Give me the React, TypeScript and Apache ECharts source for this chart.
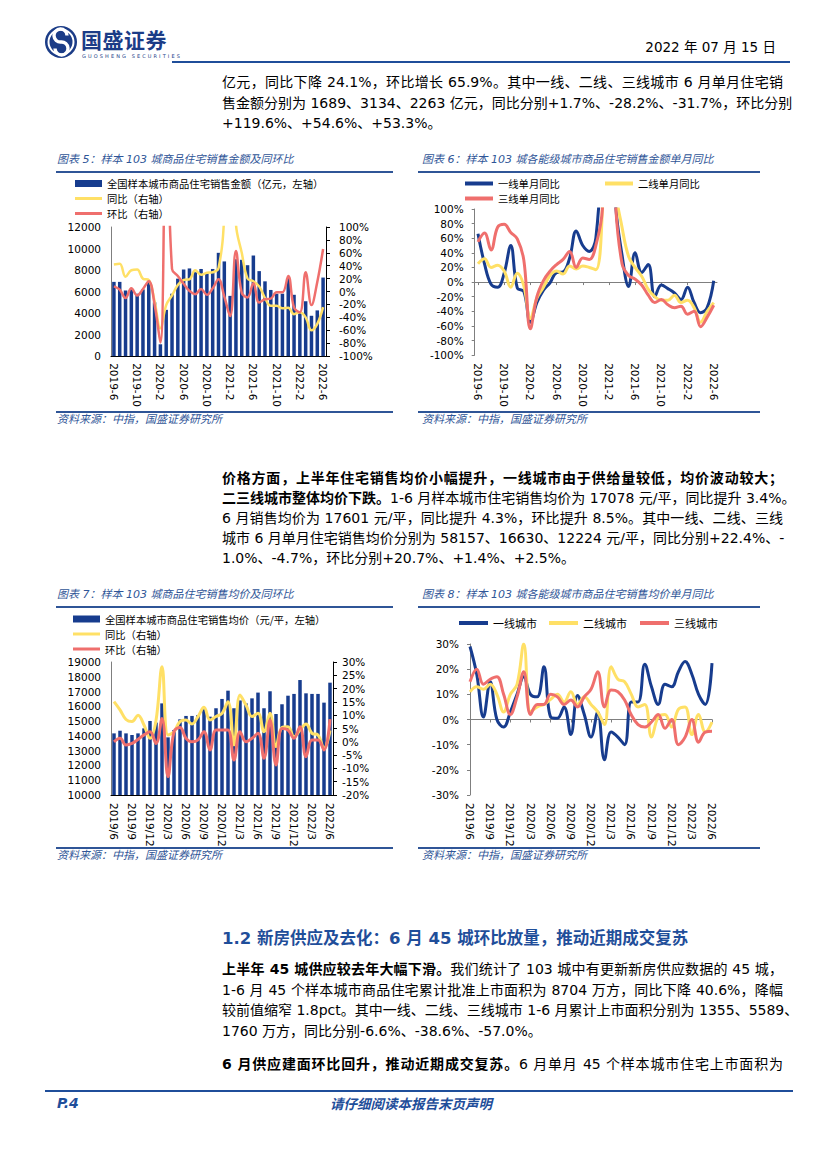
import React, { useEffect, useRef } from 'react';
import * as echarts from 'echarts';

// ---------- categories ----------
const DASH_MONTHS = ['2019-6','2019-7','2019-8','2019-9','2019-10','2019-11','2019-12','2020-1','2020-2','2020-3','2020-4','2020-5','2020-6','2020-7','2020-8','2020-9','2020-10','2020-11','2020-12','2021-1','2021-2','2021-3','2021-4','2021-5','2021-6','2021-7','2021-8','2021-9','2021-10','2021-11','2021-12','2022-1','2022-2','2022-3','2022-4','2022-5','2022-6'];
const SLASH_MONTHS = ['2019/6','2019/7','2019/8','2019/9','2019/10','2019/11','2019/12','2020/1','2020/2','2020/3','2020/4','2020/5','2020/6','2020/7','2020/8','2020/9','2020/10','2020/11','2020/12','2021/1','2021/2','2021/3','2021/4','2021/5','2021/6','2021/7','2021/8','2021/9','2021/10','2021/11','2021/12','2022/1','2022/2','2022/3','2022/4','2022/5','2022/6'];

// ---------- chart 5: sales amount ----------
const salesAmount = [6900,6900,6100,6200,5800,6200,7000,5000,1100,4300,5800,7200,8050,8150,7800,8100,7700,8100,9600,8800,5600,9000,8950,8450,9350,7900,6950,6150,5800,5800,7250,5700,4000,5100,3750,4250,7300];
const salesYoy = [42,43,23,33,34,20,18,-15,-57,-21,-6,10,18,19,33,26,29,30,36,120,400,105,60,20,16,8,-10,-22,-22,-26,-25,-35,-32,-40,-60,-50,-24.1];
const salesMom = [8,3,-10,5,-6,4,16,-20,-79,290,35,24,12,1,-4,4,-5,5,19,-8,-38,63,-2,-9,13,-17,-12,-11,-1,-1,24,-25,-32,30,-21,15,65.9];

// ---------- chart 6: amount yoy by tier ----------
const tier1AmountYoy = [66,25,-3,-7,12,50,-8,-13,-55,-28,-11,-1,13,14,33,70,50,42,60,200,400,110,37,-6,40,13,24,-20,-4,-9,-15,-24,-7,-28,-42,-35,1.7];
const tier2AmountYoy = [25,32,20,23,15,-7,12,-5,-50,-22,-7,9,15,11,22,18,22,20,17,100,400,130,75,35,20,8,-10,-20,-25,-25,-18,-28,-25,-35,-55,-40,-28.2];
const tier3AmountYoy = [55,67,44,75,79,68,59,30,-64,-20,2,15,24,31,42,20,33,31,50,100,400,110,25,9,4,-4,-18,-28,-24,-31,-35,-33,-44,-40,-61,-48,-31.7];

// ---------- chart 7: average price ----------
const avgPrice = [14170,14350,14170,14060,14170,14510,15010,14900,16200,13900,14400,15120,15350,15350,15410,15800,15300,15870,16500,17060,15870,16400,16200,16540,16930,15870,17020,15480,16140,16720,16840,17780,16880,16840,16840,16250,17601];
const priceYoy = [15.1,12,8.4,7.6,10,6.3,1.3,8,28.2,2.6,3.8,7.6,8.2,6.7,9.5,13,8.2,9.5,10.7,15.1,-1.2,17.6,13.8,9.5,10.7,3.8,10.7,-1.8,5.4,5.7,1.9,4.4,6.7,3.2,2.6,-2.5,4.3];
const priceMom = [0,1.3,-1.2,-0.6,0.9,2.6,3.8,-0.6,8.8,-13.1,3.8,5.4,1.3,0,0.7,3.8,-3.1,4.4,4.4,4.4,-6.8,3.8,0,1.3,3.2,-6.2,8.2,-8.7,5,4.4,1.3,5.7,-5.6,0.7,0.7,-3.1,8.5];

// ---------- chart 8: price yoy by tier ----------
const tier1PriceYoy = [29,18,1,15,0,-3,3,10,17,10,9,21,1,0.5,5,-6,9.5,2,-7,3,-16,-5,-7,-10,7,7,22,13,6,14,13,19,23,18,10,6,22.4];
const tier2PriceYoy = [11,13,12,14,10,3,10,14,30,3,5,6,8,10,7,11,6,9,6,3,-2,21,16,15,10,5,6,-7,1,2,-3,4,5,-6,2,-5,-1.0];
const tier3PriceYoy = [15,20,14,16,17,10,2,9,19,2,6,6,10,9,6,7.7,5,9,12,19,5,11.7,11,7.7,1.8,-2,-3,-1,2,-3.5,0,-10,-7,0,-9,-5,-4.7];

// ---------- styles ----------
const NUM = '"DejaVu Sans", Verdana, sans-serif';
const CJK = '"Noto Sans CJK SC", sans-serif';
const BODY = '"DejaVu Sans", "Noto Sans CJK SC", sans-serif';
const NAVY = '#173C8E';
const YELLOW = '#FFE066';
const RED = '#EF6F6D';
const TITLE_BLUE = '#2F5597';
const AXIS_GRAY = '#7f7f7f';

type LegendSpec = { x: number; y: number; kind: 'bar' | 'line'; color: string; text: string };

function legendGraphics(items: LegendSpec[], fontSize: number, thick: number, w: number) {
  const els: any[] = [];
  items.forEach((it) => {
    if (it.kind === 'bar') {
      els.push({ type: 'rect', shape: { x: it.x, y: it.y - 3.5, width: w, height: 7 }, style: { fill: it.color } });
    } else {
      els.push({ type: 'line', shape: { x1: it.x, y1: it.y, x2: it.x + w, y2: it.y }, style: { stroke: it.color, lineWidth: thick } });
    }
    els.push({
      type: 'text', x: it.x + w + 5, y: it.y,
      style: {
        text: it.text, fontSize, lineHeight: fontSize, fontFamily: CJK, fill: '#000',
        align: 'left', textAlign: 'left', verticalAlign: 'middle', textVerticalAlign: 'middle',
      },
    });
  });
  return els;
}

const axisLabelBase = { fontSize: 10.5, fontFamily: NUM, color: '#000' };
const plain = (v: number) => String(v);
const pct = (v: number) => `${v}%`;

function lineSeries(name: string, data: number[], color: string, width: number, yAxisIndex = 0, xAxisIndex = 0) {
  return {
    name, type: 'line', data, yAxisIndex, xAxisIndex, smooth: 0.4, symbol: 'none', showSymbol: false, clip: true,
    lineStyle: { color, width }, itemStyle: { color }, z: 3,
  };
}

const option5: any = {
  animation: false,
  grid: { left: 71, top: 52, width: 215, height: 133 },
  graphic: legendGraphics([
    { x: 35, y: 8.5, kind: 'bar', color: NAVY, text: '全国样本城市商品住宅销售金额（亿元，左轴）' },
    { x: 35, y: 23.5, kind: 'line', color: YELLOW, text: '同比（右轴）' },
    { x: 35, y: 38.5, kind: 'line', color: RED, text: '环比（右轴）' },
  ], 10.3, 3, 27),
  xAxis: {
    type: 'category', data: DASH_MONTHS, boundaryGap: true,
    axisLine: { onZero: false, lineStyle: { color: '#000', width: 1 } },
    axisTick: { show: false },
    axisLabel: { ...axisLabelBase, interval: 3, rotate: -90, margin: 7 },
  },
  yAxis: [
    {
      type: 'value', min: 0, max: 12000, interval: 2000, position: 'left',
      axisLine: { show: true, lineStyle: { color: AXIS_GRAY } }, axisTick: { show: false }, splitLine: { show: false },
      axisLabel: { ...axisLabelBase, margin: 10, formatter: plain },
    },
    {
      type: 'value', min: -100, max: 100, interval: 20, position: 'right',
      axisLine: { show: true, lineStyle: { color: '#000' } }, axisTick: { show: true, length: 4, lineStyle: { color: '#000' } }, splitLine: { show: false },
      axisLabel: { ...axisLabelBase, margin: 13, formatter: pct },
    },
  ],
  series: [
    { name: '全国样本城市商品住宅销售金额（亿元，左轴）', type: 'bar', data: salesAmount, barWidth: 3.5, itemStyle: { color: NAVY }, yAxisIndex: 0, z: 2 },
    lineSeries('同比（右轴）', salesYoy, YELLOW, 2.5, 1),
    lineSeries('环比（右轴）', salesMom, RED, 2.5, 1),
  ],
};

const option6: any = {
  animation: false,
  grid: { left: 64.7, top: 34, width: 242.3, height: 152 },
  graphic: legendGraphics([
    { x: 55, y: 8.5, kind: 'line', color: NAVY, text: '一线单月同比' },
    { x: 195, y: 8.5, kind: 'line', color: YELLOW, text: '二线单月同比' },
    { x: 55, y: 23.5, kind: 'line', color: RED, text: '三线单月同比' },
  ], 10.3, 4, 28),
  xAxis: [
    {
      type: 'category', data: DASH_MONTHS, boundaryGap: true, position: 'bottom',
      axisLine: { show: false, onZero: false }, axisTick: { show: false },
      axisLabel: { ...axisLabelBase, interval: 3, rotate: -90, margin: 8 },
    },
    {
      type: 'category', data: DASH_MONTHS, boundaryGap: true, position: 'bottom',
      axisLine: { show: true, onZero: true, lineStyle: { color: AXIS_GRAY } },
      axisTick: { show: true, interval: 3, alignWithLabel: true, length: 3, lineStyle: { color: AXIS_GRAY } },
      axisLabel: { show: false },
    },
  ],
  yAxis: {
    type: 'value', min: -100, max: 100, interval: 20,
    axisLine: { show: true, lineStyle: { color: AXIS_GRAY } }, axisTick: { show: true, length: 3, lineStyle: { color: AXIS_GRAY } }, splitLine: { show: false },
    axisLabel: { ...axisLabelBase, margin: 11, formatter: pct },
  },
  series: [
    lineSeries('一线单月同比', tier1AmountYoy, NAVY, 3),
    lineSeries('二线单月同比', tier2AmountYoy, YELLOW, 3),
    lineSeries('三线单月同比', tier3AmountYoy, RED, 3),
  ],
};

const option7: any = {
  animation: false,
  grid: { left: 71, top: 52, width: 222, height: 133 },
  graphic: legendGraphics([
    { x: 33, y: 9, kind: 'bar', color: NAVY, text: '全国样本城市商品住宅销售均价（元/平，左轴）' },
    { x: 33, y: 24, kind: 'line', color: YELLOW, text: '同比（右轴）' },
    { x: 33, y: 39, kind: 'line', color: RED, text: '环比（右轴）' },
  ], 10.3, 3, 27),
  xAxis: {
    type: 'category', data: SLASH_MONTHS, boundaryGap: true,
    axisLine: { onZero: false, lineStyle: { color: '#000', width: 1 } },
    axisTick: { show: false },
    axisLabel: { ...axisLabelBase, interval: 2, rotate: -90, margin: 8 },
  },
  yAxis: [
    {
      type: 'value', min: 10000, max: 19000, interval: 1000, position: 'left',
      axisLine: { show: true, lineStyle: { color: AXIS_GRAY } }, axisTick: { show: false }, splitLine: { show: false },
      axisLabel: { ...axisLabelBase, margin: 10, formatter: plain },
    },
    {
      type: 'value', min: -20, max: 30, interval: 5, position: 'right',
      axisLine: { show: true, lineStyle: { color: '#000' } }, axisTick: { show: true, length: 4, lineStyle: { color: '#000' } }, splitLine: { show: false },
      axisLabel: { ...axisLabelBase, margin: 9, formatter: pct },
    },
  ],
  series: [
    { name: '全国样本城市商品住宅销售均价（元/平，左轴）', type: 'bar', data: avgPrice, barWidth: 3.5, itemStyle: { color: NAVY }, yAxisIndex: 0, z: 2 },
    lineSeries('同比（右轴）', priceYoy, YELLOW, 3, 1),
    lineSeries('环比（右轴）', priceMom, RED, 3, 1),
  ],
};

const option8: any = {
  animation: false,
  grid: { left: 60, top: 34, width: 242, height: 151 },
  graphic: legendGraphics([
    { x: 49, y: 13, kind: 'line', color: NAVY, text: '一线城市' },
    { x: 139, y: 13, kind: 'line', color: YELLOW, text: '二线城市' },
    { x: 230, y: 13, kind: 'line', color: RED, text: '三线城市' },
  ], 11, 4, 29),
  xAxis: [
    {
      type: 'category', data: SLASH_MONTHS, boundaryGap: false, position: 'bottom',
      axisLine: { show: false, onZero: false }, axisTick: { show: false },
      axisLabel: { ...axisLabelBase, interval: 2, rotate: -90, margin: 8 },
    },
    {
      type: 'category', data: SLASH_MONTHS, boundaryGap: false, position: 'bottom',
      axisLine: { show: true, onZero: true, lineStyle: { color: AXIS_GRAY } },
      axisTick: { show: true, interval: 2, length: 3, lineStyle: { color: AXIS_GRAY } },
      axisLabel: { show: false },
    },
  ],
  yAxis: {
    type: 'value', min: -30, max: 30, interval: 10,
    axisLine: { show: true, lineStyle: { color: AXIS_GRAY } }, axisTick: { show: true, length: 3, lineStyle: { color: AXIS_GRAY } }, splitLine: { show: false },
    axisLabel: { ...axisLabelBase, margin: 11, formatter: pct },
  },
  series: [
    lineSeries('一线城市', tier1PriceYoy, NAVY, 3),
    lineSeries('二线城市', tier2PriceYoy, YELLOW, 3),
    lineSeries('三线城市', tier3PriceYoy, RED, 3),
  ],
};

function Chart({ option, left, top, width, height }: { option: any; left: number; top: number; width: number; height: number }) {
  const ref = useRef<HTMLDivElement>(null);
  useEffect(() => {
    const chart = echarts.init(ref.current as HTMLDivElement, null, { renderer: 'svg' });
    chart.setOption(option);
    return () => chart.dispose();
  }, []);
  return <div ref={ref} style={{ position: 'absolute', left, top, width, height }} />;
}

function TextLine({ x, y, w, justify = true, size = 14, children }: { x: number; y: number; w: number; justify?: boolean; size?: number; children: any }) {
  return (
    <div
      style={{
        position: 'absolute', left: x, top: y - 10, width: w, height: 20, lineHeight: '20px',
        fontSize: size, fontFamily: BODY, color: '#000', whiteSpace: 'nowrap',
        textAlign: justify ? 'justify' : 'left', textAlignLast: justify ? 'justify' : 'left',
      } as any}
    >
      {children}
    </div>
  );
}

function Rule({ x1, x2, y, w = 1.5, color = TITLE_BLUE }: { x1: number; x2: number; y: number; w?: number; color?: string }) {
  return <div style={{ position: 'absolute', left: x1, top: y - w / 2, width: x2 - x1, height: w, background: color }} />;
}

function Caption({ x, y, text }: { x: number; y: number; text: string }) {
  return (
    <div style={{ position: 'absolute', left: x, top: y - 8, height: 16, lineHeight: '16px', fontSize: 11, fontStyle: 'italic', fontFamily: BODY, color: TITLE_BLUE, whiteSpace: 'nowrap' }}>
      {text}
    </div>
  );
}

export default function App() {
  const TX = 222;
  const TW = 561;
  return (
    <div style={{ position: 'absolute', left: 0, top: 0, width: 827, height: 1169, background: '#fff', overflow: 'hidden' }}>
      {/* header */}
      <svg style={{ position: 'absolute', left: 44, top: 25 }} width={34} height={34} viewBox="0 0 34 34">
        <circle cx={17} cy={17} r={16} fill="#1B3C87" />
        <circle cx={17} cy={17} r={12.5} fill="none" stroke="#fff" strokeWidth={2} />
        <path d="M23 10.5 A6.5 6.5 0 1 0 17 17 A6.5 6.5 0 1 1 11 23.5" fill="none" stroke="#fff" strokeWidth={3.4} />
      </svg>
      <div style={{ position: 'absolute', left: 81, top: 26, fontSize: 21, lineHeight: '26px', fontWeight: 700, fontFamily: CJK, color: '#1B3C87', letterSpacing: 0.5 }}>国盛证券</div>
      <div style={{ position: 'absolute', left: 82, top: 53, fontSize: 5, lineHeight: '6px', fontFamily: NUM, color: '#1B3C87', letterSpacing: 2.1, whiteSpace: 'nowrap' }}>GUOSHENG SECURITIES</div>
      <div style={{ position: 'absolute', left: 640, top: 37, width: 136, textAlign: 'right', fontSize: 13.5, lineHeight: '20px', fontFamily: BODY, color: '#000', whiteSpace: 'nowrap' }}>2022 年 07 月 15 日</div>
      <Rule x1={172} x2={790} y={62} w={2} color="#1F4E9A" />

      {/* paragraph continuing */}
      <TextLine x={TX} y={82} w={TW}>亿元，同比下降 24.1%，环比增长 65.9%。其中一线、二线、三线城市 6 月单月住宅销</TextLine>
      <TextLine x={TX} y={102.5} w={TW}>售金额分别为 1689、3134、2263 亿元，同比分别+1.7%、-28.2%、-31.7%，环比分别</TextLine>
      <TextLine x={TX} y={123} w={TW} justify={false}>+119.6%、+54.6%、+53.3%。</TextLine>

      {/* chart 5 & 6 frames */}
      <Caption x={57} y={160} text="图表 5：样本 103 城商品住宅销售金额及同环比" />
      <Rule x1={56} x2={393} y={172} />
      <Caption x={422} y={160} text="图表 6：样本 103 城各能级城市商品住宅销售金额单月同比" />
      <Rule x1={418} x2={760} y={172} />
      <Chart option={option5} left={40} top={175} width={370} height={235} />
      <Chart option={option6} left={410} top={175} width={380} height={235} />
      <Rule x1={56} x2={393} y={412} />
      <Caption x={57} y={420} text="资料来源：中指，国盛证券研究所" />
      <Rule x1={418} x2={760} y={412} />
      <Caption x={422} y={420} text="资料来源：中指，国盛证券研究所" />

      {/* price paragraph */}
      <TextLine x={TX} y={478} w={TW}><b>价格方面，上半年住宅销售均价小幅提升，一线城市由于供给量较低，均价波动较大；</b></TextLine>
      <TextLine x={TX} y={498} w={TW}><b>二三线城市整体均价下跌。</b>1-6 月样本城市住宅销售均价为 17078 元/平，同比提升 3.4%。</TextLine>
      <TextLine x={TX} y={518} w={TW}>6 月销售均价为 17601 元/平，同比提升 4.3%，环比提升 8.5%。其中一线、二线、三线</TextLine>
      <TextLine x={TX} y={538} w={TW}>城市 6 月单月住宅销售均价分别为 58157、16630、12224 元/平，同比分别+22.4%、-</TextLine>
      <TextLine x={TX} y={557.5} w={TW} justify={false}>1.0%、-4.7%，环比分别+20.7%、+1.4%、+2.5%。</TextLine>

      {/* chart 7 & 8 frames */}
      <Caption x={57} y={595} text="图表 7：样本 103 城商品住宅销售均价及同环比" />
      <Rule x1={56} x2={393} y={607} />
      <Caption x={422} y={595} text="图表 8：样本 103 城各能级城市商品住宅销售均价单月同比" />
      <Rule x1={418} x2={760} y={607} />
      <Chart option={option7} left={40} top={610} width={370} height={240} />
      <Chart option={option8} left={410} top={610} width={380} height={240} />
      <Rule x1={56} x2={393} y={848} />
      <Caption x={57} y={856} text="资料来源：中指，国盛证券研究所" />
      <Rule x1={418} x2={760} y={848} />
      <Caption x={422} y={856} text="资料来源：中指，国盛证券研究所" />

      {/* section 1.2 */}
      <div style={{ position: 'absolute', left: TX, top: 928, height: 22, lineHeight: '22px', fontSize: 16.5, fontWeight: 700, fontFamily: BODY, color: '#1F4E9A', whiteSpace: 'nowrap' }}>
        1.2 新房供应及去化：6 月 45 城环比放量，推动近期成交复苏
      </div>
      <TextLine x={TX} y={969} w={TW}><b>上半年 45 城供应较去年大幅下滑。</b>我们统计了 103 城中有更新新房供应数据的 45 城，</TextLine>
      <TextLine x={TX} y={989.5} w={TW}>1-6 月 45 个样本城市商品住宅累计批准上市面积为 8704 万方，同比下降 40.6%，降幅</TextLine>
      <TextLine x={TX} y={1010} w={TW}>较前值缩窄 1.8pct。其中一线、二线、三线城市 1-6 月累计上市面积分别为 1355、5589、</TextLine>
      <TextLine x={TX} y={1030.5} w={TW} justify={false}>1760 万方，同比分别-6.6%、-38.6%、-57.0%。</TextLine>
      <TextLine x={TX} y={1064} w={TW}><b>6 月供应建面环比回升，推动近期成交复苏。</b>6 月单月 45 个样本城市住宅上市面积为</TextLine>

      {/* footer */}
      <Rule x1={45} x2={793} y={1091} w={2} color="#1F4E9A" />
      <div style={{ position: 'absolute', left: 57, top: 1094, lineHeight: '18px', fontSize: 14, fontWeight: 700, fontStyle: 'italic', fontFamily: BODY, color: '#1F4E9A' }}>P.4</div>
      <div style={{ position: 'absolute', left: 330, top: 1094, lineHeight: '18px', fontSize: 13.5, fontWeight: 700, fontStyle: 'italic', fontFamily: CJK, color: '#1F4E9A', whiteSpace: 'nowrap' }}>请仔细阅读本报告末页声明</div>
    </div>
  );
}
